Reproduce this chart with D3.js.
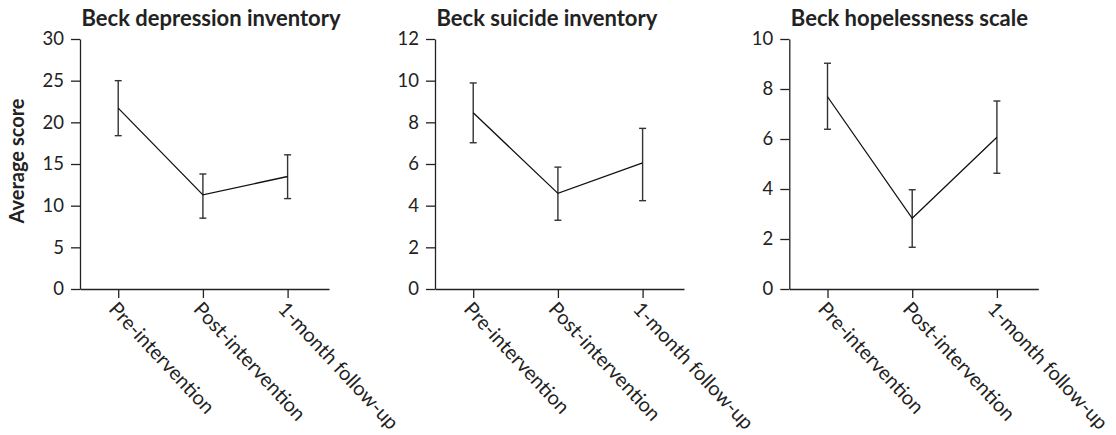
<!DOCTYPE html>
<html>
<head>
<meta charset="utf-8">
<script src="https://cdn.jsdelivr.net/npm/d3@7"></script>
<style>
  html, body { margin: 0; padding: 0; background: #fff; }
  svg { display: block; font-family: Lato, "Open Sans", sans-serif; }
  .tick text { fill: #222; }
</style>
</head>
<body>
<svg id="chart" width="1116" height="435"></svg>
<script>
// Time points shared by all three panels
const timepoints = ["Pre-intervention", "Post-intervention", "1-month follow-up"];

// Panel titles and y-axis maxima
const titles = ["Beck depression inventory", "Beck suicide inventory", "Beck hopelessness scale"];
const yMax = [30, 12, 10];
const yStep = [5, 2, 2];

// Mean scores per scale
const depressionMean = [21.7, 11.3, 13.5];
const suicideMean = [8.46, 4.59, 6.05];
const hopelessMean = [7.69, 2.83, 6.07];

// Error bar bounds (lower, upper)
const depressionLow = [18.4, 8.5, 10.85];
const depressionHigh = [25.0, 13.8, 16.1];
const suicideLow = [7.02, 3.3, 4.24];
const suicideHigh = [9.89, 5.85, 7.71];
const hopelessLow = [6.39, 1.67, 4.63];
const hopelessHigh = [9.03, 3.97, 7.52];

const means = [depressionMean, suicideMean, hopelessMean];
const lows = [depressionLow, suicideLow, hopelessLow];
const highs = [depressionHigh, suicideHigh, hopelessHigh];

const svg = d3.select("#chart");
const panelLeft = [80, 435, 789.3];
const panelWidth = 249;
const plotTop = 39, plotBottom = 289;
const tickLen = 9;
const ink = "#222";

titles.forEach((title, i) => {
  const x0 = panelLeft[i];
  const g = svg.append("g");

  const x = d3.scalePoint()
    .domain(timepoints)
    .range([x0, x0 + panelWidth])
    .padding(0.47)
    .align(0.48);

  const y = d3.scaleLinear()
    .domain([0, yMax[i]])
    .range([plotBottom, plotTop]);

  // y axis
  const yAxis = g.append("g")
    .attr("transform", `translate(${x0},0)`)
    .call(d3.axisLeft(y)
      .tickValues(d3.range(0, yMax[i] + 0.001, yStep[i]))
      .tickSize(tickLen)
      .tickPadding(7)
      .tickSizeOuter(0));
  yAxis.select(".domain").attr("stroke", ink).attr("stroke-width", 1.3);
  yAxis.selectAll(".tick line").attr("stroke", ink).attr("stroke-width", 1.3);
  yAxis.selectAll(".tick text")
    .attr("font-size", 18.5)
    .attr("font-family", "Lato, sans-serif");

  // x axis with rotated category labels
  const xAxis = g.append("g")
    .attr("transform", `translate(0,${plotBottom})`)
    .call(d3.axisBottom(x).tickSize(tickLen).tickSizeOuter(0));
  xAxis.select(".domain").attr("stroke", ink).attr("stroke-width", 1.3);
  xAxis.selectAll(".tick line").attr("stroke", ink).attr("stroke-width", 1.3);
  xAxis.selectAll(".tick text")
    .attr("font-size", 20)
    .attr("font-family", "Lato, sans-serif")
    .attr("text-anchor", "start")
    .attr("dy", 0)
    .attr("y", 0)
    .attr("transform", "translate(-11,21) rotate(47)");

  // panel title
  g.append("text")
    .attr("x", x0 + 1.5)
    .attr("y", 26)
    .attr("font-size", 22)
    .attr("font-weight", 700)
    .attr("fill", ink)
    .text(title);

  // error bars
  const capW = 7;
  const bars = g.selectAll(".err")
    .data(timepoints.map((t, k) => ({ t, lo: lows[i][k], hi: highs[i][k] })))
    .join("g")
    .attr("stroke", "#333")
    .attr("stroke-width", 1.4);
  bars.append("line")
    .attr("x1", d => x(d.t)).attr("x2", d => x(d.t))
    .attr("y1", d => y(d.lo)).attr("y2", d => y(d.hi));
  bars.append("line")
    .attr("x1", d => x(d.t) - capW / 2).attr("x2", d => x(d.t) + capW / 2)
    .attr("y1", d => y(d.hi)).attr("y2", d => y(d.hi));
  bars.append("line")
    .attr("x1", d => x(d.t) - capW / 2).attr("x2", d => x(d.t) + capW / 2)
    .attr("y1", d => y(d.lo)).attr("y2", d => y(d.lo));

  // mean line
  g.append("path")
    .datum(timepoints.map((t, k) => ({ t, v: means[i][k] })))
    .attr("fill", "none")
    .attr("stroke", "#111")
    .attr("stroke-width", 1.3)
    .attr("d", d3.line().x(d => x(d.t)).y(d => y(d.v)));
});

// shared y-axis label
svg.append("text")
  .attr("transform", "translate(23.5,161) rotate(-90)")
  .attr("text-anchor", "middle")
  .attr("font-size", 20)
  .attr("font-weight", 700)
  .attr("fill", ink)
  .text("Average score");
</script>
</body>
</html>
